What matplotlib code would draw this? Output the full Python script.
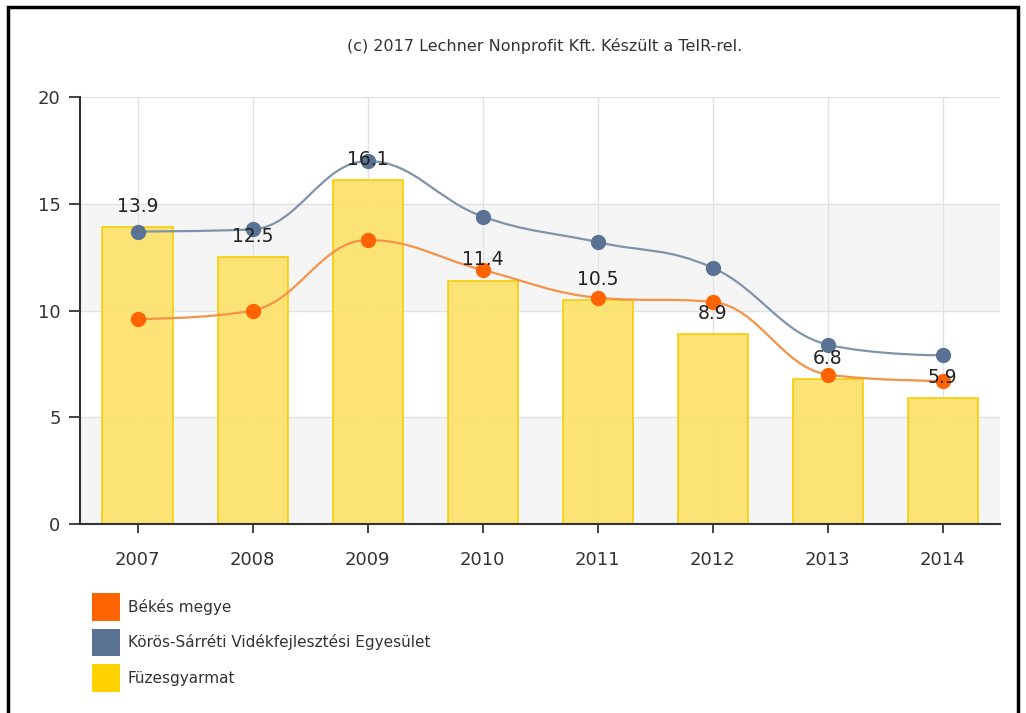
import matplotlib.pyplot as plt
from matplotlib.path import Path
from matplotlib.patches import PathPatch, Patch, Rectangle

years = ['2007', '2008', '2009', '2010', '2011', '2012', '2013', '2014']
fuzesgyarmat = [13.9, 12.5, 16.1, 11.4, 10.5, 8.9, 6.8, 5.9]
bekes = [9.6, 10.0, 13.3, 11.9, 10.6, 10.4, 7.0, 6.7]
koros = [13.7, 13.8, 17.0, 14.4, 13.2, 12.0, 8.4, 7.9]


def spline_path(xs, ys, smoothing=1.5):
    # bezier curve through the points, control points the way Highcharts does it
    denom = smoothing + 1
    verts = [(xs[0], ys[0])]
    codes = [Path.MOVETO]
    prev_right = (xs[0], ys[0])
    n = len(xs)
    for i in range(1, n):
        x, y = xs[i], ys[i]
        lx, ly = xs[i - 1], ys[i - 1]
        if i < n - 1:
            nx, ny = xs[i + 1], ys[i + 1]
            lcx = (smoothing * x + lx) / denom
            lcy = (smoothing * y + ly) / denom
            rcx = (smoothing * x + nx) / denom
            rcy = (smoothing * y + ny) / denom
            corr = ((rcy - lcy) * (rcx - x)) / (rcx - lcx) + y - rcy
            lcy += corr
            rcy += corr
            if lcy > ly and lcy > y:
                lcy = max(ly, y)
                rcy = 2 * y - lcy
            elif lcy < ly and lcy < y:
                lcy = min(ly, y)
                rcy = 2 * y - lcy
            if rcy > ny and rcy > y:
                rcy = max(ny, y)
                lcy = 2 * y - rcy
            elif rcy < ny and rcy < y:
                rcy = min(ny, y)
                lcy = 2 * y - rcy
        else:
            lcx, lcy = x, y
            rcx, rcy = x, y
        verts += [prev_right, (lcx, lcy), (x, y)]
        codes += [Path.CURVE4] * 3
        prev_right = (rcx, rcy)
    return Path(verts, codes)


fig = plt.figure(figsize=(10.26, 7.13), dpi=100)
ax = fig.add_axes([0.078, 0.265, 0.897, 0.599])

x = list(range(len(years)))

# alternating plot bands
ax.axhspan(0, 5, color='#f5f5f5', zorder=0)
ax.axhspan(10, 15, color='#f5f5f5', zorder=0)

ax.bar(x, fuzesgyarmat, width=0.61, color='#fde26e', alpha=0.95,
       edgecolor='#f5cc00', linewidth=1.2, zorder=2)

for xi, v in zip(x, fuzesgyarmat):
    ax.annotate(f'{v}', (xi, v), xytext=(0, 15), textcoords='offset points',
                ha='center', va='center', fontsize=13.5, color='#222222', zorder=6)

ax.add_patch(PathPatch(spline_path(x, koros), fill=False, edgecolor='#7f93ab',
                       linewidth=1.6, zorder=3))
ax.plot(x, koros, 'o', color='#5a7394', markersize=10, zorder=4)

ax.add_patch(PathPatch(spline_path(x, bekes), fill=False, edgecolor='#f5924a',
                       linewidth=1.6, zorder=3))
ax.plot(x, bekes, 'o', color='#ff6400', markersize=10, zorder=4)

ax.set_xlim(-0.5, 7.5)
ax.set_ylim(0, 20)
ax.set_yticks([0, 5, 10, 15, 20])
ax.set_xticks(x)
ax.set_xticklabels(years)
ax.grid(True, color='#e2e2e2', linewidth=1, zorder=1)
ax.set_axisbelow(True)

for s in ['top', 'right']:
    ax.spines[s].set_visible(False)
ax.spines['left'].set_color('#333333')
ax.spines['bottom'].set_color('#333333')
ax.spines['left'].set_linewidth(1.5)
ax.spines['bottom'].set_linewidth(1.5)
ax.tick_params(axis='both', width=1.3, color='#333333',
               labelsize=13, labelcolor='#333333')
ax.tick_params(axis='x', length=6.5, pad=13)
ax.tick_params(axis='y', length=8, pad=6)

fig.text(0.531, 0.935, '(c) 2017 Lechner Nonprofit Kft. Készült a TeIR-rel.',
         ha='center', va='center', fontsize=11.5, color='#333333')

handles = [Patch(facecolor='#ff6400', label='Békés megye'),
           Patch(facecolor='#5a7394', label='Körös-Sárréti Vidékfejlesztési Egyesület'),
           Patch(facecolor='#ffd200', label='Füzesgyarmat')]
fig.legend(handles=handles, loc='upper left', bbox_to_anchor=(0.0897, 0.168),
           frameon=False, fontsize=11, handlelength=1.8, handleheight=2.42,
           handletextpad=0.53, labelspacing=0.5, labelcolor='#333333',
           borderpad=0, borderaxespad=0)

fig.patches.append(Rectangle((0.008, -0.01), 0.984, 1.0, transform=fig.transFigure,
                             fill=False, edgecolor='black', linewidth=2.5))

fig.savefig('out.png', dpi=100)
